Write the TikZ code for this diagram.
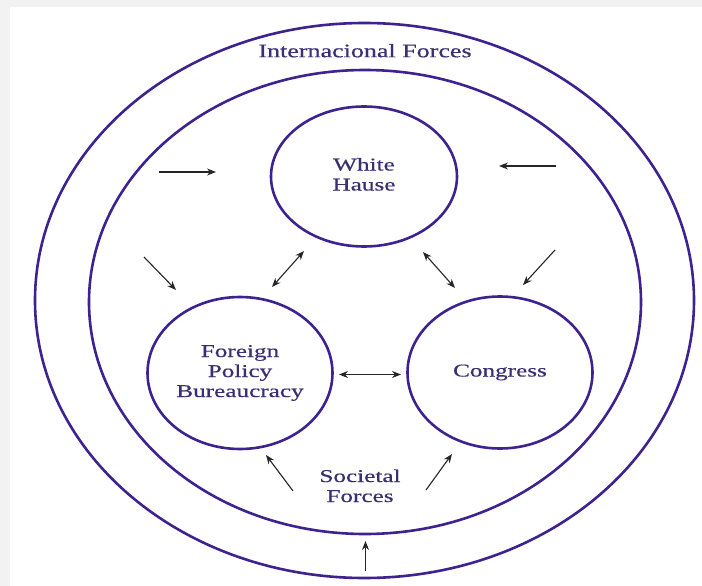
\documentclass[tikz,border=0pt]{standalone}
\usepackage{fontspec}
\setmainfont{Liberation Serif}
\newfontfamily\labelfont{Liberation Serif}[FakeBold=0.4]
\usetikzlibrary{shapes.geometric,arrows.meta}
\definecolor{ringcol}{HTML}{3E2390}
\definecolor{inkcol}{HTML}{3B2F74}
\definecolor{framecol}{HTML}{F2F2F2}
% horizontally widened, centred lines of text
\newcommand{\widetext}[2][1.4]{\scalebox{#1}[1]{\begin{tabular}{@{}c@{}}#2\end{tabular}}}
\begin{document}
\begin{tikzpicture}[x=1pt,y=-1pt,
  ring/.style={draw=ringcol, line width=2.6pt, ellipse, inner sep=0pt},
  actor/.style={ring, text=inkcol, font=\labelfont\fontsize{18}{20}\selectfont},
  lbl/.style={text=inkcol, inner sep=0pt, font=\labelfont\fontsize{18}{20}\selectfont},
  tip/.tip={Stealth[length=9pt,width=7pt]},
  push/.style={-tip, line width=1.1pt, draw=black!85},
  link/.style={tip-tip, line width=1.1pt, draw=black!85}]
% page and card
\fill[framecol] (0,0) rectangle (702,586);
\fill[white] (10,7) rectangle (702,586);
\useasboundingbox (0,0) rectangle (702,586);

% the two environments
\node[ring, minimum width=659pt, minimum height=555pt] (intl) at (364.5,300.5) {};
\node[ring, minimum width=552pt, minimum height=464pt] (soc) at (365,302) {};
\node[lbl, font=\labelfont\fontsize{19}{21}\selectfont] (intlname) at (365,53) {\widetext[1.37]{Internacional Forces}};
\node[lbl] (socname) at (360,488) {\widetext{Societal\\Forces}};

% the three actors
\node[actor, minimum width=186pt, minimum height=140pt] (wh) at (364,176.5) {\widetext{White\\Hause}};
\node[actor, minimum width=185pt, minimum height=152pt] (fpb) at (240,373) {\widetext{Foreign\\Policy\\Bureaucracy}};
\node[actor, minimum width=185pt, minimum height=152pt] (cong) at (500,372.5) {\raisebox{-4pt}{\widetext{Congress}}};

% arrow end points
\coordinate (a1s) at (159,172);   \coordinate (a1e) at (216,172);
\coordinate (a2s) at (556,166);   \coordinate (a2e) at (499,166);
\coordinate (a3s) at (144,257);   \coordinate (a3e) at (176,290);
\coordinate (a4s) at (555,250);   \coordinate (a4e) at (523,285);
\coordinate (l1a) at (272,287);   \coordinate (l1b) at (304,251);
\coordinate (l2a) at (423,252);   \coordinate (l2b) at (455,288);
\coordinate (l3a) at (339,374.5); \coordinate (l3b) at (401,374.5);
\coordinate (b1s) at (293,491);   \coordinate (b1e) at (266,455);
\coordinate (b2s) at (426,490);   \coordinate (b2e) at (452,454);
\coordinate (b3s) at (365.5,571); \coordinate (b3e) at (365.5,541);

% international pressures
\draw[push] (a1s) -- (a1e);
\draw[push] (a2s) -- (a2e);
\draw[push] (a3s) -- (a3e);
\draw[push] (a4s) -- (a4e);
\draw[push] (b3s) -- (b3e);
% societal pressures
\draw[push] (b1s) -- (b1e);
\draw[push] (b2s) -- (b2e);
% interaction among actors
\draw[link] (l1a) -- (l1b);
\draw[link] (l2a) -- (l2b);
\draw[link] (l3a) -- (l3b);
\end{tikzpicture}
\end{document}
